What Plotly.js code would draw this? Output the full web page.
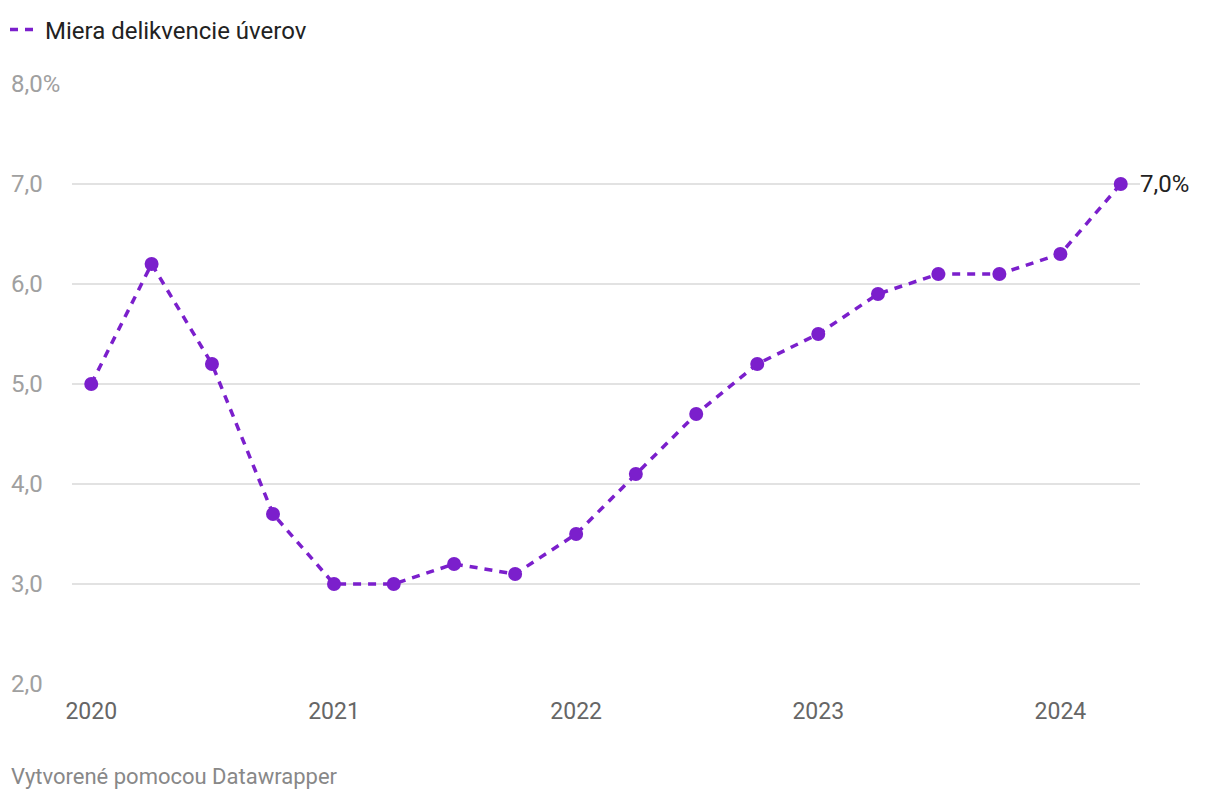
<!DOCTYPE html>
<html>
<head>
<meta charset="utf-8">
<script src="https://cdn.plot.ly/plotly-3.0.1.min.js"></script>
<style>
html,body{margin:0;padding:0;background:#fff;}
#chart{width:1220px;height:800px;}
</style>
</head>
<body>
<div id="chart"></div>
<script>
const quarters = ['2020-01-01','2020-04-01','2020-07-01','2020-10-01',
  '2021-01-01','2021-04-01','2021-07-01','2021-10-01',
  '2022-01-01','2022-04-01','2022-07-01','2022-10-01',
  '2023-01-01','2023-04-01','2023-07-01','2023-10-01',
  '2024-01-01','2024-04-01'];
const delinquency = [5.0,6.2,5.2,3.7,3.0,3.0,3.2,3.1,3.5,4.1,4.7,5.2,5.5,5.9,6.1,6.1,6.3,7.0];
const seriesName = 'Miera delikvencie úverov';
const yTicks = [2,3,4,5,6,7,8];
const yTickLabels = ['2,0','3,0','4,0','5,0','6,0','7,0','8,0%'];
const xTicks = ['2020-01-01','2021-01-01','2022-01-01','2023-01-01','2024-01-01'];
const xTickLabels = ['2020','2021','2022','2023','2024'];
const footer = 'Vytvorené pomocou Datawrapper';

const color = '#7b1fcc';
const FONT = 'Roboto, "Noto Sans", sans-serif';

const traces = [
  {
    x: quarters, y: delinquency, type: 'scatter', mode: 'lines+markers',
    line: {color: color, width: 3.5, dash: '8px,7px'},
    marker: {color: color, size: 14},
    showlegend: false, hoverinfo: 'x+y', cliponaxis: false
  },
  {
    x: [null], y: [null], type: 'scatter', mode: 'lines', name: seriesName,
    line: {color: color, width: 3.5, dash: '8px,7px'}, showlegend: true
  }
];

const annotations = yTicks.map((v, i) => ({
  xref: 'paper', yref: 'y', x: -62/1068, y: v, xanchor: 'left', yanchor: 'middle',
  text: yTickLabels[i], showarrow: false, borderpad: 0,
  font: {family: FONT, size: 24, color: '#a0a0a0'}
}));
const last = delinquency.length - 1;
annotations.push({
  xref: 'x', yref: 'y', x: quarters[last], y: delinquency[last], xanchor: 'left', yanchor: 'middle',
  xshift: 18, text: delinquency[last].toFixed(1).replace('.', ',') + '%', showarrow: false, borderpad: 0,
  font: {family: FONT, size: 24, color: '#222'}
});
annotations.push({
  xref: 'paper', yref: 'paper', x: -62/1068, y: -(776-684)/600, xanchor: 'left', yanchor: 'middle',
  text: footer, showarrow: false, borderpad: 0, font: {family: FONT, size: 22, color: '#888'}
});

const layout = {
  width: 1220, height: 800,
  margin: {l: 72, r: 80, t: 84, b: 116, autoexpand: false},
  paper_bgcolor: '#fff', plot_bgcolor: '#fff',
  font: {family: FONT},
  showlegend: true,
  legend: {
    orientation: 'h', x: -67/1068, xanchor: 'left', y: 1 + (84-30)/600, yanchor: 'middle',
    font: {family: FONT, size: 24, color: '#222'}, itemwidth: 30, bgcolor: 'rgba(0,0,0,0)'
  },
  xaxis: {
    type: 'date', range: ['2019-12-03', '2024-04-30'],
    tickmode: 'array', tickvals: xTicks, ticktext: xTickLabels,
    showgrid: false, zeroline: false, showline: false,
    ticks: 'outside', ticklen: 6, tickcolor: 'rgba(0,0,0,0)',
    tickfont: {family: FONT, size: 23, color: '#666'}
  },
  yaxis: {
    range: [2, 8], tickmode: 'array', tickvals: yTicks, showticklabels: false,
    showgrid: true, gridcolor: '#e2e2e2', gridwidth: 1.5, zeroline: false, showline: false,
    fixedrange: true
  },
  annotations: annotations
};

Plotly.newPlot('chart', traces, layout, {displayModeBar: false, staticPlot: true});
</script>
</body>
</html>
